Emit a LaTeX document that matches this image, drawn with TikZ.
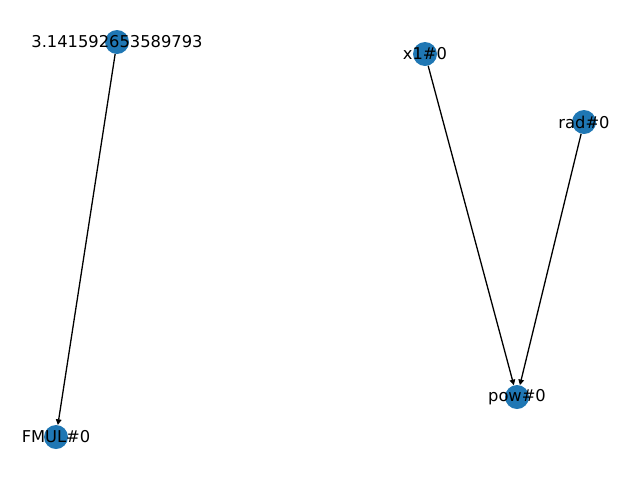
\documentclass[tikz,border=0pt]{standalone}
\usepackage{fontspec}
\setmainfont{DejaVu Sans}
\usetikzlibrary{arrows.meta}
\begin{document}
\begin{tikzpicture}[x=1pt,y=-1pt,
  vtx/.style={circle,fill={rgb,255:red,31;green,119;blue,180},draw=none,minimum size=24pt,inner sep=0pt},
  lbl/.style={font=\fontsize{16.3}{18}\selectfont,inner sep=0pt},
  edge/.style={draw=black,line width=1.3pt,-{Triangle[length=5.6pt,width=5.6pt]}}]
\useasboundingbox (0,0) rectangle (640,480);
\node[vtx] (pi) at (117,42) {};
\node[vtx] (fmul) at (56,437) {};
\node[vtx] (x1) at (425,54) {};
\node[vtx] (rad) at (584,122) {};
\node[vtx] (pow) at (517,397) {};
\draw[edge] (pi) -- (fmul);
\draw[edge] (x1) -- (pow);
\draw[edge] (rad) -- (pow);
\node[lbl] (lpi) at (117,42) {3.141592653589793};
\node[lbl] (lfmul) at (56,437) {FMUL\#0};
\node[lbl] (lx1) at (425,54) {x1\#0};
\node[lbl] (lrad) at (584,122) {rad\#0};
\node[lbl] (lpow) at (517,397) {pow\#0};
\end{tikzpicture}
\end{document}
